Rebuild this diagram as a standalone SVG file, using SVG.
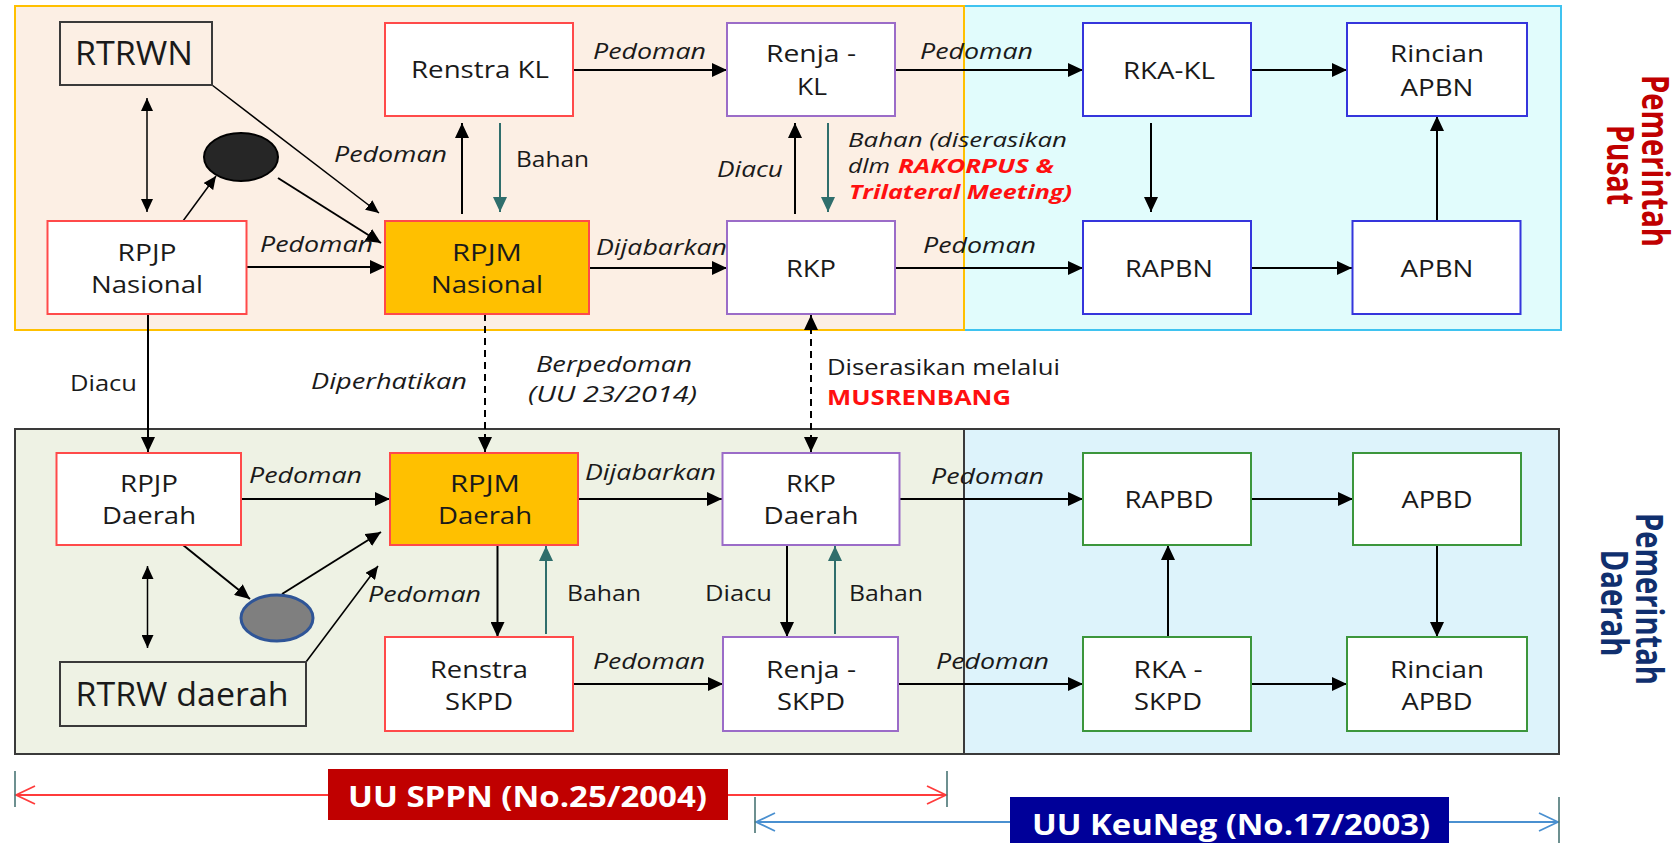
<svg xmlns="http://www.w3.org/2000/svg" width="1680" height="843" viewBox="0 0 1680 843">
<defs>
<style>
text{font-family:"Open Sans","DejaVu Sans",sans-serif;fill:#1a1a1a}
.nt{font-size:23px;text-anchor:middle}
.lb{font-size:22px}
.sm{font-size:20px}
.it{font-style:italic}
.red{fill:#ff1010;font-weight:bold;font-style:italic}
.box{stroke-width:2}
.rb{fill:#fff;stroke:#ff4a4a}
.pb{fill:#fff;stroke:#9b6cc8}
.bb{fill:#fff;stroke:#3535dc}
.gb{fill:#fff;stroke:#3c963c}
.ob{fill:#ffc000;stroke:#ff4a4a}
.kb{fill:none;stroke:#3a3a3a}
.side{font-size:32px;font-weight:bold;text-anchor:middle}
.c{stroke:#000;stroke-width:2;fill:none;marker-end:url(#ah)}
.ct{stroke:#2f6e6c;stroke-width:2;fill:none;marker-end:url(#aht)}
.cs{stroke:#000;stroke-width:1.5;fill:none;marker-end:url(#ahs)}
.cd{stroke:#000;stroke-width:2;fill:none;stroke-dasharray:7 5;marker-end:url(#ah)}
.tick{stroke:#3d6b6b;stroke-width:1.5}
</style>
<marker id="ah" markerUnits="userSpaceOnUse" markerWidth="16" markerHeight="14" refX="15" refY="7" orient="auto-start-reverse"><path d="M0,0 L15,7 L0,14 z" fill="#000"/></marker>
<marker id="aht" markerUnits="userSpaceOnUse" markerWidth="16" markerHeight="14" refX="15" refY="7" orient="auto"><path d="M0,0 L15,7 L0,14 z" fill="#2f6e6c"/></marker>
<marker id="ahs" markerUnits="userSpaceOnUse" markerWidth="14" markerHeight="12" refX="13" refY="6" orient="auto-start-reverse"><path d="M0,0 L13,6 L0,12 z" fill="#000"/></marker>
<marker id="chr" markerUnits="userSpaceOnUse" markerWidth="22" markerHeight="22" refX="20" refY="10" orient="auto-start-reverse"><path d="M1,1 L20,10 L1,19" fill="none" stroke="#ff3b3b" stroke-width="1.8"/></marker>
<marker id="chb" markerUnits="userSpaceOnUse" markerWidth="22" markerHeight="22" refX="20" refY="10" orient="auto-start-reverse"><path d="M1,1 L20,10 L1,19" fill="none" stroke="#4a90d0" stroke-width="1.8"/></marker>
</defs>
<rect width="1680" height="843" fill="#fff"/>

<g id="regions">
<rect x="964" y="6" width="597" height="324" fill="#e1fcfc" stroke="#3fc3f0" stroke-width="2"/>
<rect x="15" y="6" width="949" height="324" fill="#fcefe4" stroke="#ffc000" stroke-width="2"/>
<rect x="15" y="429" width="949" height="325" fill="#eef2e4" stroke="#3a3a3a" stroke-width="2"/>
<rect x="964" y="429" width="595" height="325" fill="#ddf3fb" stroke="#3a3a3a" stroke-width="2"/>
</g>

<g id="connectors">
<line class="cs" x1="147" y1="98" x2="147" y2="212" style="marker-start:url(#ahs)"/>
<line class="cs" x1="212" y1="85" x2="379" y2="213"/>
<line class="cs" x1="183" y1="221" x2="216" y2="176"/>
<line class="c" x1="278" y1="178" x2="381" y2="243"/>
<line class="c" x1="247" y1="267" x2="385" y2="267"/>
<line class="c" x1="462" y1="214" x2="462" y2="123"/>
<line class="ct" x1="500" y1="123" x2="500" y2="212"/>
<line class="c" x1="573" y1="70" x2="727" y2="70"/>
<line class="c" x1="895" y1="70" x2="1083" y2="70"/>
<line class="c" x1="1251" y1="70" x2="1347" y2="70"/>
<line class="c" x1="589" y1="268" x2="727" y2="268"/>
<line class="c" x1="895" y1="268" x2="1083" y2="268"/>
<line class="c" x1="1251" y1="268" x2="1352" y2="268"/>
<line class="c" x1="795" y1="214" x2="795" y2="123"/>
<line class="ct" x1="828" y1="123" x2="828" y2="212"/>
<line class="c" x1="1151" y1="123" x2="1151" y2="212"/>
<line class="c" x1="1437" y1="221" x2="1437" y2="116"/>
<line class="c" x1="148" y1="314" x2="148" y2="452"/>
<line class="cd" x1="485" y1="314" x2="485" y2="452"/>
<line class="cd" x1="811" y1="315" x2="811" y2="452" style="marker-start:url(#ah)"/>
<line class="c" x1="241" y1="499" x2="390" y2="499"/>
<line class="c" x1="183" y1="545" x2="250" y2="599"/>
<line class="c" x1="282" y1="594" x2="381" y2="532"/>
<path class="cs" d="M306,662 L378,566"/>
<line class="cs" x1="147.5" y1="566" x2="147.5" y2="648" style="marker-start:url(#ahs)"/>
<line class="c" x1="497.5" y1="545" x2="497.5" y2="637"/>
<line class="ct" x1="546" y1="634" x2="546" y2="546"/>
<line class="c" x1="578" y1="499" x2="722" y2="499"/>
<line class="c" x1="900" y1="499" x2="1083" y2="499"/>
<line class="c" x1="1251" y1="499" x2="1353" y2="499"/>
<line class="c" x1="787" y1="545" x2="787" y2="637"/>
<line class="ct" x1="835" y1="634" x2="835" y2="546"/>
<line class="c" x1="573" y1="684" x2="723" y2="684"/>
<line class="c" x1="898" y1="684" x2="1083" y2="684"/>
<line class="c" x1="1168" y1="637" x2="1168" y2="545"/>
<line class="c" x1="1437" y1="545" x2="1437" y2="637"/>
<line class="c" x1="1251" y1="684" x2="1347" y2="684"/>
</g>

<g id="node-rtrwn"><rect class="box kb" x="60" y="22" width="152" height="63"/><text class="nt" x="134" y="65" style="font-size:32px" textLength="118" lengthAdjust="spacingAndGlyphs">RTRWN</text></g>
<g id="node-renstra-kl"><rect class="box rb" x="385" y="23" width="188" height="93"/><text class="nt" x="480" y="78" textLength="138" lengthAdjust="spacingAndGlyphs">Renstra KL</text></g>
<g id="node-renja-kl"><rect class="box pb" x="727" y="23" width="168" height="93"/><text class="nt" x="811" y="62" textLength="90" lengthAdjust="spacingAndGlyphs">Renja -</text><text class="nt" x="812" y="95" textLength="30" lengthAdjust="spacingAndGlyphs">KL</text></g>
<g id="node-rka-kl"><rect class="box bb" x="1083" y="23" width="168" height="93"/><text class="nt" x="1169" y="79" textLength="92" lengthAdjust="spacingAndGlyphs">RKA-KL</text></g>
<g id="node-rincian-apbn"><rect class="box bb" x="1347" y="23" width="180" height="93"/><text class="nt" x="1437" y="62" textLength="94" lengthAdjust="spacingAndGlyphs">Rincian</text><text class="nt" x="1437" y="96" textLength="73" lengthAdjust="spacingAndGlyphs">APBN</text></g>
<g id="node-rpjp-nasional"><rect class="box rb" x="47.5" y="221" width="199" height="93"/><text class="nt" x="147" y="261" textLength="59" lengthAdjust="spacingAndGlyphs">RPJP</text><text class="nt" x="147" y="293" textLength="112" lengthAdjust="spacingAndGlyphs">Nasional</text></g>
<g id="node-rpjm-nasional"><rect class="box ob" x="385" y="221" width="204" height="93"/><text class="nt" x="487" y="261" textLength="70" lengthAdjust="spacingAndGlyphs">RPJM</text><text class="nt" x="487" y="293" textLength="112" lengthAdjust="spacingAndGlyphs">Nasional</text></g>
<g id="node-rkp"><rect class="box pb" x="727" y="221" width="168" height="93"/><text class="nt" x="811" y="277" textLength="50" lengthAdjust="spacingAndGlyphs">RKP</text></g>
<g id="node-rapbn"><rect class="box bb" x="1083" y="221" width="168" height="93"/><text class="nt" x="1169" y="277" textLength="88" lengthAdjust="spacingAndGlyphs">RAPBN</text></g>
<g id="node-apbn"><rect class="box bb" x="1352.5" y="221" width="168" height="93"/><text class="nt" x="1437" y="277" textLength="73" lengthAdjust="spacingAndGlyphs">APBN</text></g>
<g id="node-ellipse-top"><ellipse cx="241" cy="157" rx="37" ry="24" fill="#262626" stroke="#000" stroke-width="2"/></g>

<g id="node-rpjp-daerah"><rect class="box rb" x="56.5" y="453" width="184.5" height="92"/><text class="nt" x="149" y="492" textLength="58" lengthAdjust="spacingAndGlyphs">RPJP</text><text class="nt" x="149" y="524" textLength="94" lengthAdjust="spacingAndGlyphs">Daerah</text></g>
<g id="node-rpjm-daerah"><rect class="box ob" x="390" y="453" width="188" height="92"/><text class="nt" x="485" y="492" textLength="70" lengthAdjust="spacingAndGlyphs">RPJM</text><text class="nt" x="485" y="524" textLength="94" lengthAdjust="spacingAndGlyphs">Daerah</text></g>
<g id="node-rkp-daerah"><rect class="box pb" x="722.5" y="453" width="177" height="92"/><text class="nt" x="811" y="492" textLength="50" lengthAdjust="spacingAndGlyphs">RKP</text><text class="nt" x="811" y="524" textLength="95" lengthAdjust="spacingAndGlyphs">Daerah</text></g>
<g id="node-rapbd"><rect class="box gb" x="1083" y="453" width="168" height="92"/><text class="nt" x="1169" y="508" textLength="89" lengthAdjust="spacingAndGlyphs">RAPBD</text></g>
<g id="node-apbd"><rect class="box gb" x="1353" y="453" width="168" height="92"/><text class="nt" x="1437" y="508" textLength="71" lengthAdjust="spacingAndGlyphs">APBD</text></g>
<g id="node-rtrw-daerah"><rect class="box kb" x="60" y="662" width="246" height="64"/><text class="nt" x="182" y="706" style="font-size:33px" textLength="213" lengthAdjust="spacingAndGlyphs">RTRW daerah</text></g>
<g id="node-ellipse-bottom"><ellipse cx="277" cy="618" rx="36" ry="23" fill="#7f7f7f" stroke="#2f5597" stroke-width="3"/></g>
<g id="node-renstra-skpd"><rect class="box rb" x="385" y="637" width="188" height="94"/><text class="nt" x="479" y="678" textLength="98" lengthAdjust="spacingAndGlyphs">Renstra</text><text class="nt" x="479" y="710" textLength="68" lengthAdjust="spacingAndGlyphs">SKPD</text></g>
<g id="node-renja-skpd"><rect class="box pb" x="723" y="637" width="175" height="94"/><text class="nt" x="811" y="678" textLength="90" lengthAdjust="spacingAndGlyphs">Renja -</text><text class="nt" x="811" y="710" textLength="68" lengthAdjust="spacingAndGlyphs">SKPD</text></g>
<g id="node-rka-skpd"><rect class="box gb" x="1083" y="637" width="168" height="94"/><text class="nt" x="1168" y="678" textLength="69" lengthAdjust="spacingAndGlyphs">RKA -</text><text class="nt" x="1168" y="710" textLength="68" lengthAdjust="spacingAndGlyphs">SKPD</text></g>
<g id="node-rincian-apbd"><rect class="box gb" x="1347" y="637" width="180" height="94"/><text class="nt" x="1437" y="678" textLength="94" lengthAdjust="spacingAndGlyphs">Rincian</text><text class="nt" x="1437" y="710" textLength="71" lengthAdjust="spacingAndGlyphs">APBD</text></g>

<g id="labels">
<text class="lb it" x="334" y="162" textLength="113" lengthAdjust="spacingAndGlyphs">Pedoman</text>
<text class="lb it" x="260" y="252" textLength="113" lengthAdjust="spacingAndGlyphs">Pedoman</text>
<text class="lb" x="516" y="167" textLength="73" lengthAdjust="spacingAndGlyphs">Bahan</text>
<text class="lb it" x="593" y="59" textLength="113" lengthAdjust="spacingAndGlyphs">Pedoman</text>
<text class="lb it" x="920" y="59" textLength="113" lengthAdjust="spacingAndGlyphs">Pedoman</text>
<text class="lb it" x="596" y="255" textLength="131" lengthAdjust="spacingAndGlyphs">Dijabarkan</text>
<text class="lb it" x="923" y="253" textLength="113" lengthAdjust="spacingAndGlyphs">Pedoman</text>
<text class="lb it" x="717" y="177" textLength="66" lengthAdjust="spacingAndGlyphs">Diacu</text>
<text class="sm it" x="848" y="147" textLength="219" lengthAdjust="spacingAndGlyphs">Bahan (diserasikan</text>
<text class="sm it" x="848" y="173" textLength="42" lengthAdjust="spacingAndGlyphs">dlm</text>
<text class="sm red" x="898" y="173" textLength="156" lengthAdjust="spacingAndGlyphs">RAKORPUS &amp;</text>
<text class="sm red" x="849" y="199" textLength="223" lengthAdjust="spacingAndGlyphs">Trilateral Meeting)</text>
<text class="lb" x="70" y="391" textLength="67" lengthAdjust="spacingAndGlyphs">Diacu</text>
<text class="lb it" x="311" y="389" textLength="156" lengthAdjust="spacingAndGlyphs">Diperhatikan</text>
<text class="lb it" x="536" y="372" textLength="156" lengthAdjust="spacingAndGlyphs">Berpedoman</text>
<text class="lb it" x="528" y="402" textLength="169" lengthAdjust="spacingAndGlyphs">(UU 23/2014)</text>
<text class="lb" x="827" y="375" textLength="233" lengthAdjust="spacingAndGlyphs">Diserasikan melalui</text>
<text class="lb" x="827" y="405" style="fill:#ff1010;font-weight:bold" textLength="184" lengthAdjust="spacingAndGlyphs">MUSRENBANG</text>
<text class="lb it" x="249" y="483" textLength="113" lengthAdjust="spacingAndGlyphs">Pedoman</text>
<text class="lb it" x="368" y="602" textLength="113" lengthAdjust="spacingAndGlyphs">Pedoman</text>
<text class="lb it" x="585" y="480" textLength="131" lengthAdjust="spacingAndGlyphs">Dijabarkan</text>
<text class="lb it" x="931" y="484" textLength="113" lengthAdjust="spacingAndGlyphs">Pedoman</text>
<text class="lb it" x="593" y="669" textLength="112" lengthAdjust="spacingAndGlyphs">Pedoman</text>
<text class="lb it" x="936" y="669" textLength="113" lengthAdjust="spacingAndGlyphs">Pedoman</text>
<text class="lb" x="705" y="601" textLength="67" lengthAdjust="spacingAndGlyphs">Diacu</text>
<text class="lb" x="849" y="601" textLength="74" lengthAdjust="spacingAndGlyphs">Bahan</text>
<text class="lb" x="567" y="601" textLength="74" lengthAdjust="spacingAndGlyphs">Bahan</text>
</g>

<g id="side-labels">
<text class="side" transform="translate(1642,161) scale(1.15,1) rotate(90)" style="fill:#c00000" textLength="172" lengthAdjust="spacingAndGlyphs">Pemerintah</text>
<text class="side" transform="translate(1607,165) scale(1.15,1) rotate(90)" style="fill:#c00000" textLength="80" lengthAdjust="spacingAndGlyphs">Pusat</text>
<text class="side" transform="translate(1636,599) scale(1.15,1) rotate(90)" style="fill:#102f6e" textLength="172" lengthAdjust="spacingAndGlyphs">Pemerintah</text>
<text class="side" transform="translate(1601,603) scale(1.15,1) rotate(90)" style="fill:#102f6e" textLength="107" lengthAdjust="spacingAndGlyphs">Daerah</text>
</g>

<g id="legend">
<line x1="16" y1="795" x2="946" y2="795" stroke="#ff3b3b" stroke-width="2" marker-start="url(#chr)" marker-end="url(#chr)"/>
<line class="tick" x1="15" y1="771" x2="15" y2="807"/>
<line class="tick" x1="947" y1="771" x2="947" y2="807"/>
<line x1="756" y1="822" x2="1558" y2="822" stroke="#4a90d0" stroke-width="2" marker-start="url(#chb)" marker-end="url(#chb)"/>
<line class="tick" x1="755" y1="797" x2="755" y2="833"/>
<line class="tick" x1="1559" y1="797" x2="1559" y2="843"/>
<g id="law-sppn"><rect x="328" y="769" width="400" height="51" fill="#c00000"/><text x="527.5" y="807" style="font-size:28px;font-weight:bold;fill:#fff;text-anchor:middle" textLength="359" lengthAdjust="spacingAndGlyphs">UU SPPN (No.25/2004)</text></g>
<g id="law-keuneg"><rect x="1010" y="797" width="439" height="50" fill="#000099"/><text x="1231" y="835" style="font-size:28px;font-weight:bold;fill:#fff;text-anchor:middle" textLength="398" lengthAdjust="spacingAndGlyphs">UU KeuNeg (No.17/2003)</text></g>
</g>
</svg>
